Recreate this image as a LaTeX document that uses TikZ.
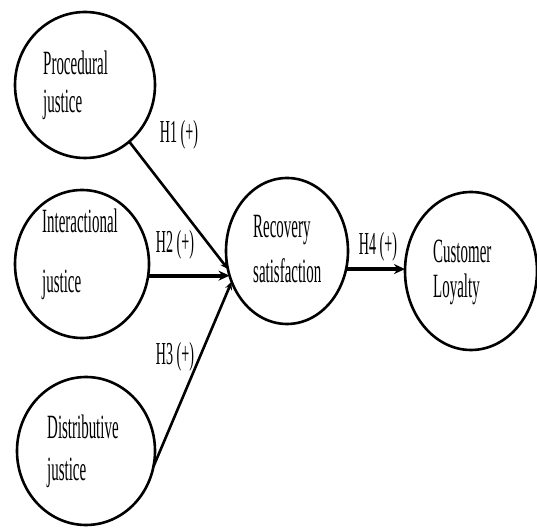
\documentclass[tikz,border=0pt]{standalone}
\usepackage{fontspec}
\setmainfont{Liberation Serif}
\newfontfamily\condserif[FakeStretch=0.44]{Liberation Serif}
\usetikzlibrary{shapes.geometric,arrows.meta}
\begin{document}
\begin{tikzpicture}[x=1pt,y=1pt,
  ell/.style={draw, ellipse, line width=2.6pt, inner sep=0pt, outer sep=0pt},
  txt/.style={anchor=base west, inner sep=0pt, font=\condserif\fontsize{34}{40}\selectfont},
  lab/.style={inner sep=0pt, font=\condserif\fontsize{32}{38}\selectfont},
  conn/.style={line width=2.6pt, -{Stealth[length=8pt,width=7pt]}},
  thickconn/.style={line width=4.2pt, -{Stealth[length=11pt,width=10pt]}}]
\useasboundingbox (0,0) rectangle (537,527);
% ellipses
\node[ell, minimum width=140pt, minimum height=146pt] (proc) at (85,442) {};
\node[ell, minimum width=134pt, minimum height=148pt] (inter) at (82,263) {};
\node[ell, minimum width=138pt, minimum height=148pt] (dist) at (86,76) {};
\node[ell, minimum width=122pt, minimum height=146pt] (rec) at (287,276) {};
\node[ell, minimum width=132pt, minimum height=158pt] (loy) at (471,256) {};
% texts
\node[txt] (t1a) at (43,452) {Procedural};
\node[txt] (t1b) at (43,414) {justice};
\node[txt] (t2a) at (42,294) {Interactional};
\node[txt] (t2b) at (42,234) {justice};
\node[txt] (t3a) at (47,89) {Distributive};
\node[txt] (t3b) at (47,47) {justice};
\node[txt] (t4a) at (253,289) {Recovery};
\node[txt] (t4b) at (253,244) {satisfaction};
\node[txt] (t5a) at (433,264) {Customer};
\node[txt] (t5b) at (433,229) {Loyalty};
% connectors
\draw[conn] (proc.-52) -- (rec.197);
\draw[thickconn] (inter.-10) -- (inter.-10 -| rec.203);
\draw[conn] (dist.-13) -- (rec.209);
\draw[thickconn] (rec.-17) -- (rec.-17 -| loy.west);
% labels
\node[lab] (h1) at (179,392) {H1 (+)};
\node[lab] (h2) at (175,282) {H2 (+)};
\node[lab] (h3) at (175,170) {H3 (+)};
\node[lab] (h4) at (378,280) {H4 (+)};
\end{tikzpicture}
\end{document}
